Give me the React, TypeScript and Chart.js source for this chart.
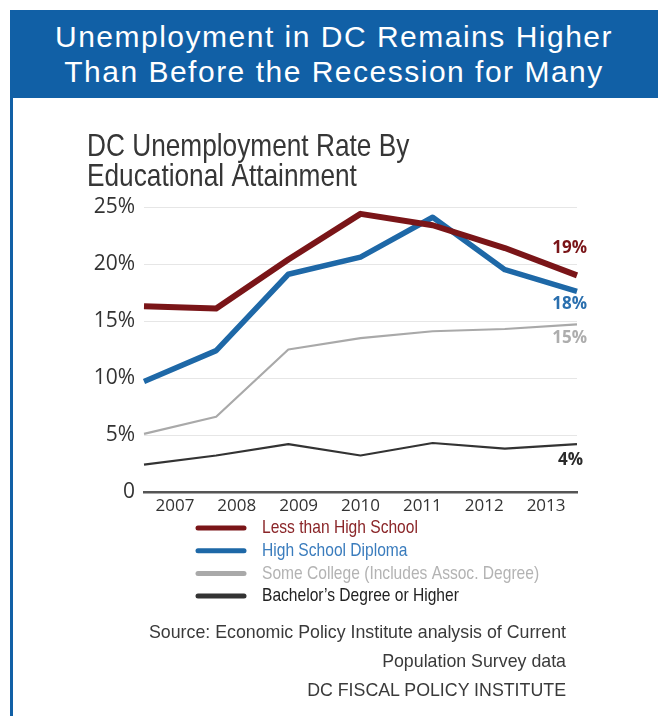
import React, { useEffect, useRef } from 'react';
import { Chart, registerables } from 'chart.js';

Chart.register(...registerables);

const YEARS = ['2007', '2008', '2009', '2010', '2011', '2012', '2013'];
const LESS_THAN_HS = [16.3, 16.1, 20.4, 24.4, 23.4, 21.4, 19.0];
const HS_DIPLOMA = [9.7, 12.4, 19.1, 20.6, 24.1, 19.5, 17.6];
const SOME_COLLEGE = [5.1, 6.6, 12.5, 13.5, 14.1, 14.3, 14.7];
const BACHELORS = [2.4, 3.2, 4.2, 3.2, 4.3, 3.8, 4.2];
const SERIES_LABELS = [
  'Less than High School',
  'High School Diploma',
  'Some College (Includes Assoc. Degree)',
  'Bachelor\u2019s Degree or Higher',
];
const END_LABELS = ['19%', '18%', '15%', '4%'];
const CHART_TITLE = ['DC Unemployment Rate By', 'Educational Attainment'];
const Y_MAX = 25;
const Y_STEP = 5;

const LINE_COLORS = ['#7a1518', '#1e68a7', '#a9a9a9', '#333333'];
const TEXT_COLORS = ['#8a2528', '#3a7cbd', '#b3b3b3', '#222222'];
const END_COLORS = ['#7a1518', '#2a6fae', '#adadad', '#2a2a2a'];
const LINE_WIDTHS = [6, 5.5, 2.2, 2.2];
const END_OFFSETS = [-27, 13, 14, 16];

const SANS = "'Liberation Sans', Arial, sans-serif";

function condensedText(ctx: CanvasRenderingContext2D, text: string, x: number, y: number, sx: number) {
  ctx.save();
  ctx.translate(x, y);
  ctx.scale(sx, 1);
  ctx.fillText(text, 0, 0);
  ctx.restore();
}

const titlePlugin = {
  id: 'condensedTitle',
  afterDraw(chart: any) {
    const ctx = chart.ctx;
    ctx.save();
    ctx.font = `32px ${SANS}`;
    ctx.fillStyle = '#363636';
    ctx.textAlign = 'left';
    ctx.textBaseline = 'alphabetic';
    CHART_TITLE.forEach((line, i) => {
      condensedText(ctx, line, 87, 56 + i * 30, 0.82);
    });
    ctx.restore();
  },
};

const endLabelPlugin = {
  id: 'endLabels',
  afterDatasetsDraw(chart: any) {
    const ctx = chart.ctx;
    ctx.save();
    ctx.font = "bold 17px 'Open Sans', sans-serif";
    ctx.textAlign = 'right';
    ctx.textBaseline = 'middle';
    chart.data.datasets.forEach((ds: any, i: number) => {
      const meta = chart.getDatasetMeta(i);
      const pt = meta.data[meta.data.length - 1];
      ctx.fillStyle = END_COLORS[i];
      ctx.fillText(END_LABELS[i], pt.x + (i === 3 ? 6 : 10), pt.y + END_OFFSETS[i]);
    });
    ctx.restore();
  },
};

const legendPlugin = {
  id: 'customLegend',
  afterDraw(chart: any) {
    const ctx = chart.ctx;
    const { left, bottom } = chart.chartArea;
    ctx.save();
    ctx.font = `19px ${SANS}`;
    ctx.textBaseline = 'middle';
    ctx.textAlign = 'left';
    chart.data.datasets.forEach((ds: any, i: number) => {
      const y = bottom + 36 + i * 22.7;
      ctx.strokeStyle = ds.borderColor;
      ctx.lineWidth = 5;
      ctx.lineCap = 'round';
      ctx.beginPath();
      ctx.moveTo(left + 54, y);
      ctx.lineTo(left + 100, y);
      ctx.stroke();
      ctx.fillStyle = TEXT_COLORS[i];
      condensedText(ctx, ds.label, left + 118, y, 0.82);
    });
    ctx.restore();
  },
};

function ChartBox() {
  const ref = useRef<HTMLCanvasElement | null>(null);
  useEffect(() => {
    if (!ref.current) return;
    const series = [LESS_THAN_HS, HS_DIPLOMA, SOME_COLLEGE, BACHELORS];
    const chart = new Chart(ref.current, {
      type: 'line',
      data: {
        labels: YEARS,
        datasets: series.map((d, i) => ({
          label: SERIES_LABELS[i],
          data: d,
          borderColor: LINE_COLORS[i],
          backgroundColor: LINE_COLORS[i],
          borderWidth: LINE_WIDTHS[i],
          pointRadius: 0,
          tension: 0,
          borderJoinStyle: 'round',
          xAxisID: 'x',
          yAxisID: 'y',
        })),
      },
      options: {
        animation: false,
        responsive: false,
        maintainAspectRatio: false,
        layout: { padding: { left: 87, right: 81, top: 107, bottom: 185 } },
        plugins: {
          legend: { display: false },
          tooltip: { enabled: false },
          title: { display: false },
        },
        scales: {
          x: {
            type: 'category',
            position: 'bottom',
            offset: false,
            grid: { display: false, drawTicks: false },
            ticks: { display: false },
            border: { display: true, color: '#555555', width: 2.5 },
            afterFit: (s: any) => { s.height = 0; },
          },
          x2: {
            type: 'category',
            position: 'bottom',
            offset: true,
            grid: { display: false, drawTicks: false },
            border: { display: false },
            ticks: {
              padding: 4,
              color: '#333333',
              font: { family: "'Open Sans', sans-serif", size: 17 },
              maxRotation: 0,
              autoSkip: false,
            },
            afterFit: (s: any) => { s.height = 40; },
          },
          y: {
            min: 0,
            max: Y_MAX,
            grid: { color: '#e6e6e6', lineWidth: 1, drawTicks: false },
            border: { display: false },
            ticks: {
              stepSize: Y_STEP,
              padding: 9,
              color: '#333333',
              font: { family: "'Open Sans', sans-serif", size: 21 },
              callback: (v: any) => (v === 0 ? '0' : `${v}%`),
            },
            afterFit: (s: any) => { s.width = 57; },
          },
        },
      },
      plugins: [titlePlugin, endLabelPlugin, legendPlugin],
    });
    return () => chart.destroy();
  }, []);
  return <canvas ref={ref} width={658} height={617} style={{ position: 'absolute', left: 0, top: 100, width: 658, height: 617 }} />;
}

export default function App() {
  const blue = '#1160a6';
  return (
    <div style={{ position: 'fixed', left: 0, top: 0, width: 658, height: 717, background: '#ffffff', overflow: 'hidden' }}>
      <div style={{ position: 'absolute', left: 10, top: 10, width: 648, height: 88, background: blue }}>
        <div style={{
          paddingTop: 8.6,
          textAlign: 'center',
          color: '#ffffff',
          fontFamily: SANS,
          fontSize: 30,
          lineHeight: '35px',
          letterSpacing: 1.5,
        }}>
          <div>Unemployment in DC Remains Higher</div>
          <div>Than Before the Recession for Many</div>
        </div>
      </div>
      <div style={{ position: 'absolute', left: 10, top: 98, width: 2.5, height: 618, background: blue }} />
      <ChartBox />
      <div style={{
        position: 'absolute', right: 658 - 566, top: 618, textAlign: 'right',
        fontFamily: SANS, fontSize: 17.8, lineHeight: '29px', color: '#3a3a3a',
        whiteSpace: 'nowrap',
      }}>
        <div>Source: Economic Policy Institute analysis of Current</div>
        <div>Population Survey data</div>
        <div>DC FISCAL POLICY INSTITUTE</div>
      </div>
    </div>
  );
}
